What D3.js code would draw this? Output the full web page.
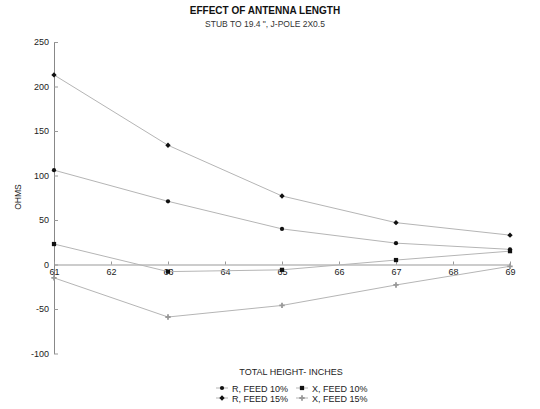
<!DOCTYPE html>
<html>
  <head>
    <meta charset="UTF-8" />
    <script src="https://d3js.org/d3.v7.min.js"></script>
    <style>
      body { margin: 0; background: #fff; }
      text { font-family: "Liberation Sans", Arial, sans-serif; fill: #111; }
    </style>
  </head>
  <body>
    <div id="chart"></div>
    <script>
      // data
      var heights = [61, 63, 65, 67, 69];
      var rFeed10 = [106, 71, 40, 24, 17];
      var rFeed15 = [213, 134, 77, 47, 33];
      var xFeed10 = [23, -8, -6, 5, 15];
      var xFeed15 = [-15, -59, -46, -23, -2];
      var xTicks = [61, 62, 63, 64, 65, 66, 67, 68, 69];
      var yTicks = [-100, -50, 0, 50, 100, 150, 200, 250];

      var width = 540, height = 409;

      var svg = d3.select("#chart").append("svg")
        .attr("width", width)
        .attr("height", height);

      var x = d3.scaleLinear().domain([61, 69]).range([54, 510]);
      var y = d3.scaleLinear().domain([-100, 250]).range([353.5, 42]);

      // titles
      svg.append("text").attr("x", 265).attr("y", 14)
        .attr("text-anchor", "middle").style("font-size", "10px").style("font-weight", "bold")
        .text("EFFECT OF ANTENNA LENGTH");
      svg.append("text").attr("x", 265).attr("y", 27)
        .attr("text-anchor", "middle").style("font-size", "8.5px").style("fill", "#333")
        .text("STUB TO 19.4 \", J-POLE 2X0.5");

      // y axis
      var yAxis = svg.append("g").attr("transform", "translate(" + x(61) + ",0)")
        .call(d3.axisRight(y).tickValues(yTicks).tickSize(4).tickSizeOuter(0).tickFormat(String));
      yAxis.select(".domain").attr("stroke", "#888");
      yAxis.selectAll(".tick line").attr("stroke", "#999");
      yAxis.selectAll(".tick text").attr("x", -5).attr("text-anchor", "end")
        .style("font-size", "9px").style("fill", "#222");

      // x axis at zero
      var xAxis = svg.append("g").attr("transform", "translate(0," + y(0) + ")")
        .call(d3.axisTop(x).tickValues(xTicks).tickSize(3).tickSizeOuter(0).tickFormat(String));
      xAxis.select(".domain").attr("stroke", "#999");
      xAxis.selectAll(".tick line").attr("stroke", "#999");
      xAxis.selectAll(".tick text").attr("y", 10).attr("dy", 0)
        .style("font-size", "9px").style("fill", "#222");

      svg.append("text").attr("transform", "translate(21,197) rotate(-90)")
        .attr("text-anchor", "middle").style("font-size", "8.5px").style("fill", "#222")
        .text("OHMS");
      svg.append("text").attr("x", 291).attr("y", 375)
        .attr("text-anchor", "middle").style("font-size", "9px").style("fill", "#222")
        .text("TOTAL HEIGHT- INCHES");

      var series = [
        { name: "R, FEED 10%", values: rFeed10, sym: d3.symbolCircle, size: 14, color: "#111" },
        { name: "R, FEED 15%", values: rFeed15, sym: d3.symbolDiamond2, size: 18, color: "#111" },
        { name: "X, FEED 10%", values: xFeed10, sym: d3.symbolSquare, size: 18, color: "#111" },
        { name: "X, FEED 15%", values: xFeed15, sym: d3.symbolCross, size: 16, color: "#999" }
      ];

      var line = d3.line()
        .x(function (d, i) { return x(heights[i]); })
        .y(function (d) { return y(d); });

      series.forEach(function (s) {
        svg.append("path")
          .attr("d", line(s.values))
          .attr("fill", "none")
          .attr("stroke", "#b5b5b5")
          .attr("stroke-width", 1);
        svg.selectAll(null).data(s.values).enter().append("path")
          .attr("transform", function (d, i) { return "translate(" + x(heights[i]) + "," + y(d) + ")"; })
          .attr("d", d3.symbol().type(s.sym).size(s.size))
          .attr("fill", s.color);
      });

      // legend
      var legPos = [[222, 388], [222, 398], [302, 388], [302, 398]];
      series.forEach(function (s, i) {
        var g = svg.append("g").attr("transform", "translate(" + legPos[i][0] + "," + legPos[i][1] + ")");
        g.append("line").attr("x1", -6).attr("x2", 6).attr("stroke", "#b5b5b5");
        g.append("path").attr("d", d3.symbol().type(s.sym).size(s.size)).attr("fill", s.color);
        g.append("text").attr("x", 10).attr("y", 3.5)
          .style("font-size", "9px").style("fill", "#222").text(s.name);
      });
    </script>
  </body>
</html>
